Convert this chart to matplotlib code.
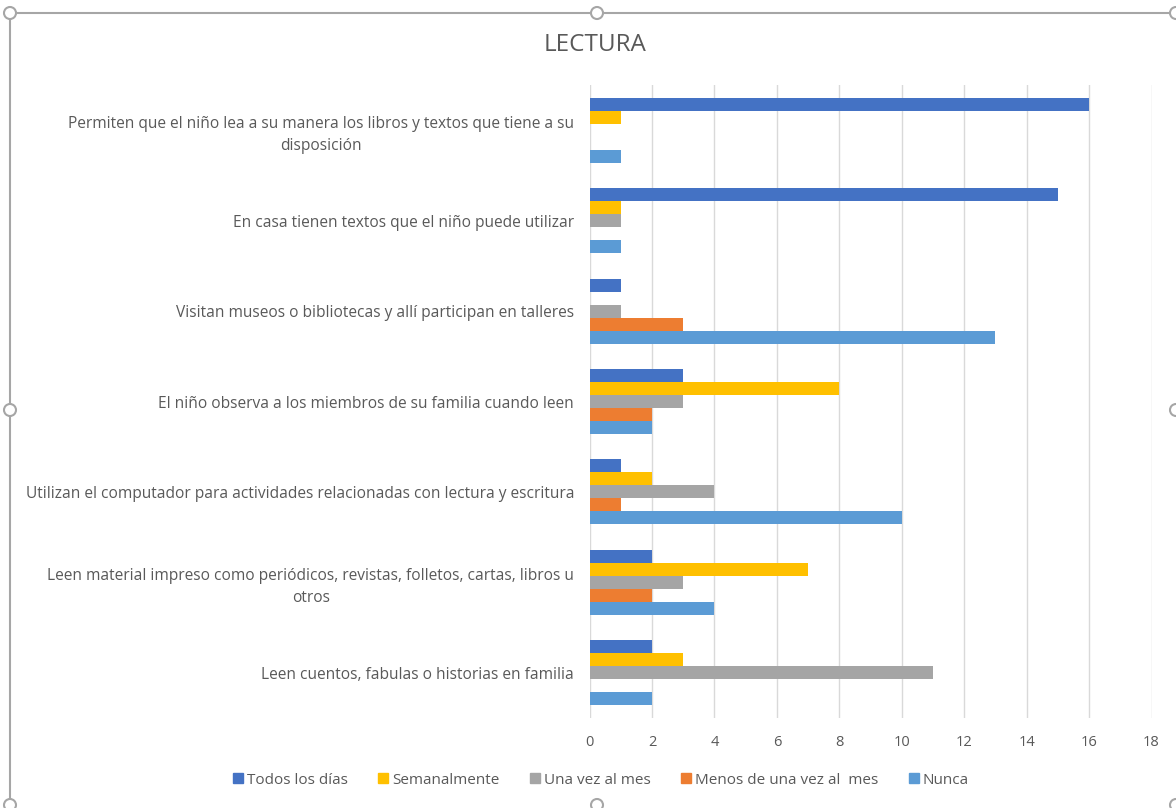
import matplotlib
matplotlib.use("Agg")
import matplotlib.pyplot as plt
import numpy as np
from matplotlib.patches import Circle
from matplotlib.lines import Line2D

plt.rcParams['font.family'] = ['Open Sans', 'DejaVu Sans']

# Categories from top to bottom
categorias = [
    "Permiten que el niño lea a su manera los libros y textos que tiene a su\ndisposición",
    "En casa tienen textos que el niño puede utilizar",
    "Visitan museos o bibliotecas y allí participan en talleres",
    "El niño observa a los miembros de su familia cuando leen",
    "Utilizan el computador para actividades relacionadas con lectura y escritura",
    "Leen material impreso como periódicos, revistas, folletos, cartas, libros u\notros",
    "Leen cuentos, fabulas o historias en familia",
]

series = ["Todos los días", "Semanalmente", "Una vez al mes",
          "Menos de una vez al  mes", "Nunca"]

todos_los_dias = [16, 15, 1, 3, 1, 2, 2]
semanalmente   = [1, 1, 0, 8, 2, 7, 3]
una_vez_al_mes = [0, 1, 1, 3, 4, 3, 11]
menos_una_vez  = [0, 0, 3, 2, 1, 2, 0]
nunca          = [1, 1, 13, 2, 10, 4, 2]

valores = [todos_los_dias, semanalmente, una_vez_al_mes, menos_una_vez, nunca]
colores = ["#4472C4", "#FFC000", "#A5A5A5", "#ED7D31", "#5B9BD5"]

xticks = [0, 2, 4, 6, 8, 10, 12, 14, 16, 18]

W, H = 1176, 808
fig = plt.figure(figsize=(W / 100, H / 100), dpi=100)

# Plot area in pixel coordinates
left, right, top, bottom = 589.5, 1151.5, 85, 718
ax = fig.add_axes([left / W, 1 - bottom / H, (right - left) / W, (bottom - top) / H])

y = np.arange(len(categorias))
h = 0.144
for j, (vals, c, name) in enumerate(zip(valores, colores, series)):
    ax.barh(y + (j - 2) * h, vals, height=h, color=c, linewidth=0,
            label=name, zorder=3)

ax.set_xlim(0, 18)
ax.set_ylim(len(categorias) - 0.5, -0.5)
ax.set_xticks(xticks)
ax.set_xticklabels([str(t) for t in xticks])
ax.set_yticks(y)
ax.set_yticklabels(categorias)
for lbl in ax.get_yticklabels():
    lbl.set_multialignment('center')
    lbl.set_linespacing(1.5)

ax.grid(axis='x', color='#D9D9D9', linewidth=1.0, zorder=0)
ax.set_axisbelow(True)
for s in ax.spines.values():
    s.set_visible(False)
ax.tick_params(axis='both', length=0, colors='#595959')
ax.tick_params(axis='x', pad=12, labelsize=10.5)
ax.tick_params(axis='y', pad=11, labelsize=11.2)

fig.text(595 / W, 1 - 45 / H, "LECTURA", ha='center', va='center',
         fontsize=17.5, color='#595959')

handles = [Line2D([0], [0], marker='s', linestyle='none', markersize=6.5,
                  markerfacecolor=c, markeredgecolor=c) for c in colores]
fig.legend(handles, series, loc='center', bbox_to_anchor=(601 / W, 1 - 780 / H),
           ncol=5, frameon=False, fontsize=11, labelcolor='#595959',
           handlelength=0.6, handletextpad=0.25, columnspacing=2.05)

# Selection frame with handles around the chart
ov = fig.add_axes([0, 0, 1, 1], zorder=-1)
ov.set_xlim(0, W)
ov.set_ylim(H, 0)
ov.axis('off')
ov.plot([10, W], [13, 13], color='#A6A6A6', linewidth=1.5)
ov.plot([10, 10], [13, H], color='#A6A6A6', linewidth=1.5)
for (cx, cy) in [(10, 13), (597, 13), (W, 13), (10, 410), (W, 410),
                 (10, 805), (597, 805), (W, 805)]:
    ov.add_patch(Circle((cx, cy), 6, facecolor='white', edgecolor='#A6A6A6',
                        linewidth=1.5, zorder=5))

fig.savefig("out.png", dpi=100, facecolor='white')
